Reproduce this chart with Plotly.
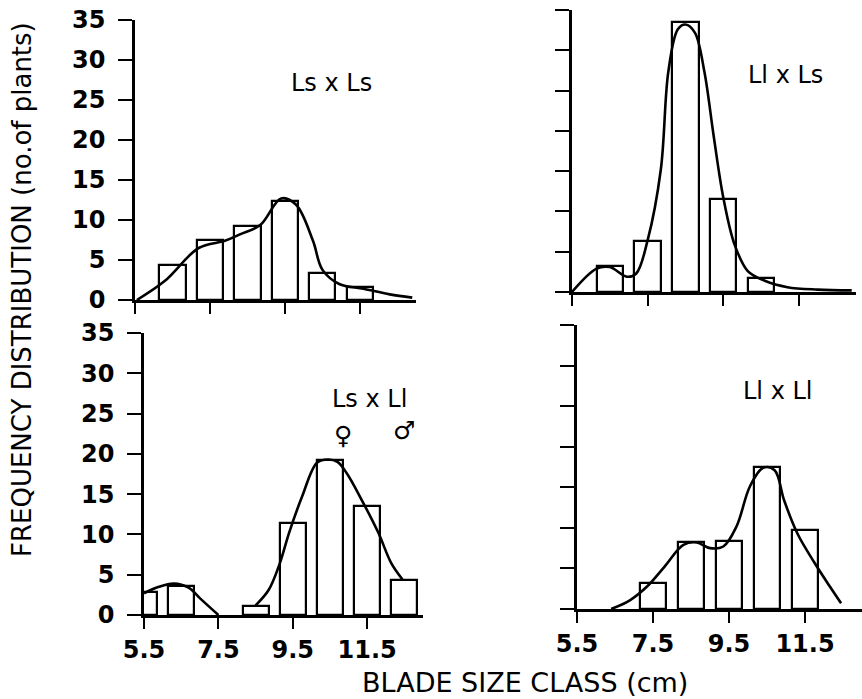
import plotly.graph_objects as go

# ---------------- data ----------------
tl_bar_x = [6.5, 7.5, 8.5, 9.5, 10.5, 11.5]
tl_bar_y = [4.4, 7.5, 9.2, 12.4, 3.4, 1.6]
tl_curve_x = [5.55, 6.3, 7.2, 7.9, 8.3, 8.85, 9.4, 9.8, 10.25, 10.5, 10.95, 11.6, 12.3, 12.9]
tl_curve_y = [0.0, 2.4, 6.5, 7.4, 8.2, 9.4, 12.7, 11.9, 7.4, 3.8, 2.0, 1.4, 0.7, 0.3]

tr_bar_x = [6.5, 7.5, 8.5, 9.5, 10.5]
tr_bar_y = [3.2, 6.3, 33.5, 11.5, 1.7]
tr_curve_x = [5.5, 6.15, 6.5, 6.95, 7.2, 7.5, 7.85, 8.05, 8.3, 8.5, 8.75, 9.0, 9.25, 9.5, 9.8, 10.15, 10.6, 11.2, 12.0, 12.9]
tr_curve_y = [0.0, 2.9, 3.1, 1.9, 2.3, 6.4, 15.2, 27.4, 32.6, 33.2, 32.2, 27.4, 19.3, 11.8, 5.9, 2.6, 1.4, 0.6, 0.3, 0.2]

bl_bar_x = [5.5, 6.5, 8.5, 9.5, 10.5, 11.5, 12.5]
bl_bar_y = [2.9, 3.6, 1.1, 11.4, 19.3, 13.5, 4.4]
bl_curve1_x = [5.5, 5.9, 6.3, 6.7, 7.0, 7.5]
bl_curve1_y = [2.7, 3.5, 3.9, 3.4, 2.1, 0.0]
bl_curve2_x = [8.5, 8.85, 9.15, 9.4, 9.75, 10.15, 10.45, 10.7, 10.95, 11.35, 11.8, 12.15, 12.45]
bl_curve2_y = [1.2, 3.1, 6.4, 10.2, 14.7, 18.9, 19.3, 19.0, 17.6, 14.3, 10.2, 6.4, 4.4]

br_bar_x = [7.5, 8.5, 9.5, 10.5, 11.5]
br_bar_y = [3.2, 8.2, 8.4, 17.5, 9.7]
br_curve_x = [6.4, 6.9, 7.35, 7.8, 8.3, 8.65, 9.0, 9.35, 9.7, 10.05, 10.4, 10.7, 10.95, 11.3, 11.75, 12.15, 12.45]
br_curve_y = [0.0, 1.1, 2.8, 5.2, 7.9, 8.2, 7.5, 7.7, 10.2, 15.1, 17.4, 17.1, 13.4, 9.3, 5.7, 2.8, 0.7]

x_ticks = [5.5, 7.5, 9.5, 11.5]
x_tick_labels = ["5.5", "7.5", "9.5", "11.5"]
y_ticks = [0, 5, 10, 15, 20, 25, 30, 35]
y_tick_labels = ["0", "5", "10", "15", "20", "25", "30", "35"]

panel_labels = ["Ls x Ls", "Ll x Ls", "Ls x Ll", "Ll x Ll"]

# ---------------- figure ----------------
W, H = 862, 699
FONT = "DejaVu Sans"
fig = go.Figure()

panels = [
    ("x", "y", tl_bar_x, tl_bar_y, [(tl_curve_x, tl_curve_y)]),
    ("x2", "y2", tr_bar_x, tr_bar_y, [(tr_curve_x, tr_curve_y)]),
    ("x3", "y3", bl_bar_x, bl_bar_y, [(bl_curve1_x, bl_curve1_y), (bl_curve2_x, bl_curve2_y)]),
    ("x4", "y4", br_bar_x, br_bar_y, [(br_curve_x, br_curve_y)]),
]

for xa, ya, bx, by, curves in panels:
    fig.add_trace(go.Bar(x=bx, y=by, width=0.7, xaxis=xa, yaxis=ya,
                         marker=dict(color="white", line=dict(color="black", width=2.2)),
                         showlegend=False, hoverinfo="skip"))
    for cx, cy in curves:
        fig.add_trace(go.Scatter(x=cx, y=cy, mode="lines", xaxis=xa, yaxis=ya,
                                 line=dict(color="black", width=2.6, shape="spline", smoothing=1.0),
                                 showlegend=False, hoverinfo="skip"))

def px_dom(a, b, total):
    return [a / total, b / total]

def py_dom(top, bottom):
    return [1 - bottom / H, 1 - top / H]

domains = {
    "1": (px_dom(135, 416, W), py_dom(20, 300)),
    "2": (px_dom(572, 855.5, W), py_dom(10, 292)),
    "3": (px_dom(144, 423, W), py_dom(333, 615)),
    "4": (px_dom(577, 862, W), py_dom(325, 609)),
}

axis_common = dict(showgrid=False, zeroline=False, showline=True, linecolor="black",
                   linewidth=2.6, ticks="outside", tickcolor="black", tickwidth=2.4,
                   automargin=False,
                   tickfont=dict(family=FONT, size=24, color="black", weight="bold"))

layout = dict(width=W, height=H, margin=dict(l=0, r=0, t=0, b=0, autoexpand=False),
              template="none",
              paper_bgcolor="white", plot_bgcolor="white", barmode="overlay",
              bargap=0, showlegend=False)

for k, (xd, yd) in domains.items():
    xs = "xaxis" if k == "1" else f"xaxis{k}"
    ys = "yaxis" if k == "1" else f"yaxis{k}"
    xanchor = "y" if k == "1" else f"y{k}"
    yanchor = "x" if k == "1" else f"x{k}"
    bottom = k in ("3", "4")
    left = k in ("1", "3")
    layout[xs] = dict(axis_common, domain=xd, anchor=xanchor, range=[5.5, 13.0],
                      tickvals=x_ticks, ticktext=x_tick_labels, ticklen=11,
                      ticklabelstandoff=0, showticklabels=bottom)
    layout[ys] = dict(axis_common, domain=yd, anchor=yanchor, range=[0, 35],
                      tickvals=y_ticks, ticktext=y_tick_labels, ticklen=14,
                      ticklabelstandoff=8, showticklabels=left)

fig.update_layout(**layout)

ann_font = dict(family=FONT, size=24, color="black")
annotations = [
    dict(x=10.75, y=27.1, xref="x", yref="y", text=panel_labels[0]),
    dict(x=11.15, y=26.9, xref="x2", yref="y2", text=panel_labels[1]),
    dict(x=11.55, y=26.8, xref="x3", yref="y3", text=panel_labels[2]),
    dict(x=10.8, y=26.9, xref="x4", yref="y4", text=panel_labels[3]),
]
for a in annotations:
    a.update(showarrow=False, font=ann_font, xanchor="center", yanchor="middle")
for sym, sx, sy in [("♀", 10.85, 22.3), ("♂", 12.5, 22.9)]:
    annotations.append(dict(x=sx, y=sy, xref="x3", yref="y3", text=sym, showarrow=False,
                            font=dict(family=FONT, size=25, color="black", weight="bold"),
                            xanchor="center", yanchor="middle"))

annotations.append(dict(x=22 / W, y=1 - 290 / H, xref="paper", yref="paper",
                        text="FREQUENCY DISTRIBUTION (no.of plants)", textangle=-90,
                        showarrow=False, font=dict(family=FONT, size=26, color="black"),
                        xanchor="center", yanchor="middle"))
annotations.append(dict(x=525 / W, y=1 - 682 / H, xref="paper", yref="paper",
                        text="BLADE SIZE CLASS (cm)", showarrow=False,
                        font=dict(family=FONT, size=27, color="black"),
                        xanchor="center", yanchor="middle"))
fig.update_layout(annotations=annotations)

fig.write_html("out.html")
